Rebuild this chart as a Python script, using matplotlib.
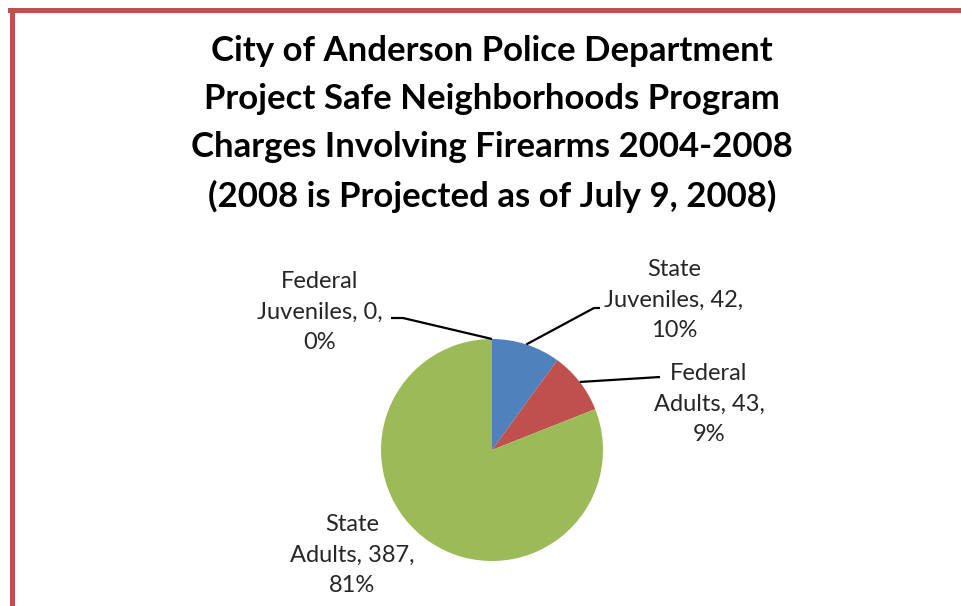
import numpy as np
import matplotlib
matplotlib.use('Agg')
import matplotlib.pyplot as plt

# data
names = ['Federal Juveniles', 'State Juveniles', 'Federal Adults', 'State Adults']
counts = [0, 42, 43, 387]
pcts = [0, 10, 9, 81]
colors = ['#8064A2', '#4F81BD', '#C0504D', '#9BBB59']

title = ('City of Anderson Police Department\n'
         'Project Safe Neighborhoods Program\n'
         'Charges Involving Firearms 2004-2008\n'
         '(2008 is Projected as of July 9, 2008)')

W, H = 961, 606
plt.rcParams['font.family'] = ['Lato', 'DejaVu Sans']
fig = plt.figure(figsize=(W / 100, H / 100), dpi=100)

# pie geometry in pixels
cx, cy, r = 492, 450, 111
ax = fig.add_axes([(cx - r) / W, (H - cy - r) / H, 2 * r / W, 2 * r / H])
wedges, _ = ax.pie(pcts, colors=colors, startangle=90, counterclock=False,
                   radius=1, wedgeprops=dict(linewidth=0))
ax.set_xlim(-1, 1)
ax.set_ylim(-1, 1)
ax.set_aspect('equal')
ax.axis('off')


def px(x, y):
    # pixel position -> pie data coords
    return (x - cx) / r, (cy - y) / r


def mid(w):
    a = np.deg2rad((w.theta1 + w.theta2) / 2)
    return np.cos(a), np.sin(a)


labels = [f'{n.split()[0]}\n{n.split()[1]}, {c},\n{p}%'
          for n, c, p in zip(names, counts, pcts)]

# label centres (pixels) and leader line knee points
label_pos = [(320, 312), (674, 300), (709, 404), (352, 555)]
knees = [[(403, 318), (391, 318)],
         [(594, 308), (600, 308)],
         [(660, 377)],
         None]

for w, lab, (lx, ly), kn in zip(wedges, labels, label_pos, knees):
    tx, ty = px(lx, ly)
    ax.text(tx, ty, lab, ha='center', va='center', fontsize=17,
            color='#262626', linespacing=1.58, clip_on=False)
    if kn is not None:
        ex, ey = mid(w) if w.theta2 - w.theta1 > 0 else (0, 1)
        pts = [(ex, ey)] + [px(*k) for k in kn]
        xs, ys = zip(*pts)
        ax.plot(xs, ys, color='black', lw=1.6, clip_on=False,
                solid_capstyle='butt')

fig.text(cx / W, 1 - 124 / H, title, ha='center', va='center',
         fontsize=25, fontweight='bold', linespacing=1.62)

# red frame (left and top)
fig.add_artist(plt.Line2D([11.5 / W, 11.5 / W], [0, 1 - 10 / H],
                          color='#C0504D', lw=3.6, transform=fig.transFigure))
fig.add_artist(plt.Line2D([9.7 / W, 1], [1 - 10 / H, 1 - 10 / H],
                          color='#C0504D', lw=3.6, transform=fig.transFigure))

fig.savefig('out.png', dpi=100)
